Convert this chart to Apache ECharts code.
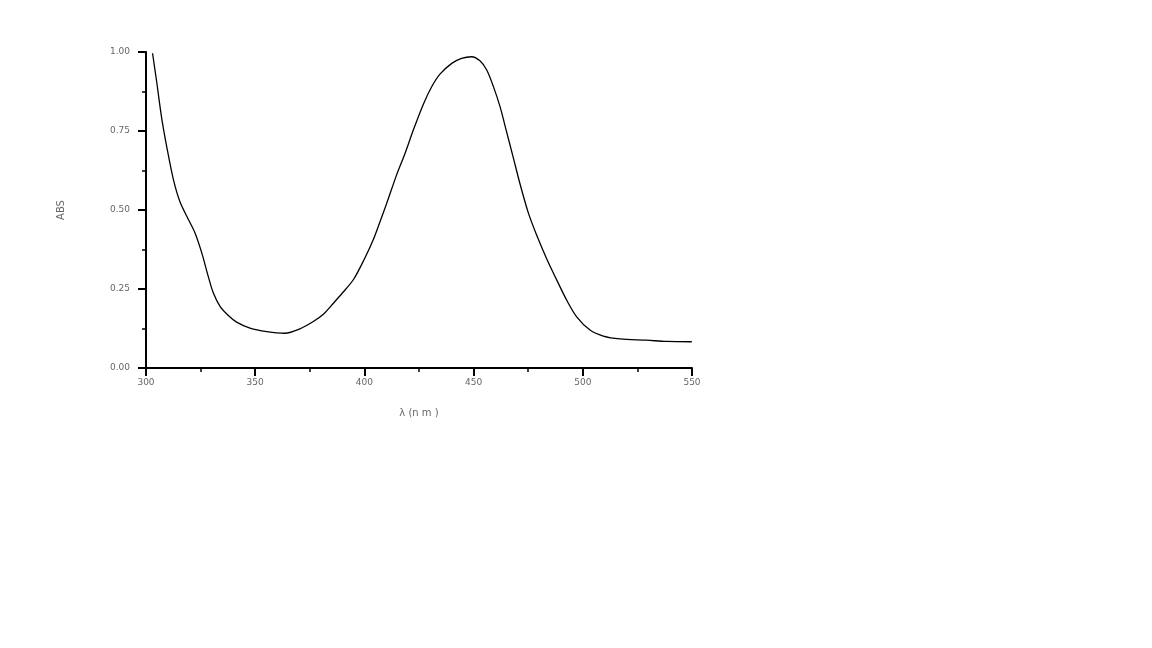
<!DOCTYPE html>
<html>
<head>
<meta charset="utf-8">
<script src="https://cdn.jsdelivr.net/npm/echarts@6/dist/echarts.min.js"></script>
<style>html,body{margin:0;padding:0;background:#fff}#c{width:1152px;height:648px}</style>
</head>
<body>
<div id="c"></div>
<script>
const wavelengths = [303, 304.9, 307.2, 309.5, 312.5, 315.6, 319.4, 322.4, 325.5, 328.5, 330.8, 333.9, 337.7, 341.5, 347.6, 355.3, 363.6, 370.5, 376.6, 381.2, 385.8, 390, 395, 400, 404, 407.1, 410.2, 414.8, 418.6, 422.4, 427.0, 430.8, 434.6, 440.0, 444.5, 449.1, 452.9, 456.0, 459.0, 462.1, 465.2, 468.2, 471.2, 475.1, 478.9, 483.5, 488.1, 492.6, 497.2, 503.3, 509.4, 517.0, 529.2, 538.4, 549.9];
const absorbance = [0.996, 0.905, 0.79, 0.70, 0.598, 0.525, 0.470, 0.428, 0.365, 0.290, 0.238, 0.195, 0.166, 0.145, 0.126, 0.115, 0.110, 0.124, 0.147, 0.170, 0.205, 0.238, 0.280, 0.345, 0.405, 0.462, 0.521, 0.612, 0.679, 0.753, 0.835, 0.890, 0.930, 0.964, 0.980, 0.985, 0.972, 0.943, 0.892, 0.827, 0.745, 0.665, 0.584, 0.490, 0.420, 0.345, 0.278, 0.215, 0.162, 0.120, 0.101, 0.092, 0.088, 0.084, 0.083];
const xTicks = [300, 350, 400, 450, 500, 550];
const yTicks = ['0.00', '0.25', '0.50', '0.75', '1.00'];
const xLabel = 'λ (n m )';
const yLabel = 'ABS';

const data = wavelengths.map((w, i) => [w, absorbance[i]]);
const chart = echarts.init(document.getElementById('c'));
const labelStyle = {fontFamily: 'DejaVu Sans', fontSize: 9, color: '#666'};
chart.setOption({
  animation: false,
  backgroundColor: '#fff',
  grid: {left: 146, top: 52, width: 546, height: 316, containLabel: false},
  xAxis: {
    type: 'value', min: 300, max: 550, interval: 50,
    name: xLabel, nameLocation: 'middle', nameGap: 40,
    nameTextStyle: {fontFamily: 'DejaVu Sans', fontSize: 10, color: '#666'},
    axisLine: {onZero: false, lineStyle: {color: '#000', width: 2}},
    axisTick: {show: true, inside: false, length: 8, lineStyle: {color: '#000', width: 2}},
    minorTick: {show: true, splitNumber: 2, length: 4, lineStyle: {color: '#000', width: 1.5}},
    axisLabel: Object.assign({margin: 10, formatter: v => String(xTicks.find(t => t === v) ?? v)}, labelStyle),
    splitLine: {show: false}
  },
  yAxis: {
    type: 'value', min: 0, max: 1, interval: 0.25,
    name: yLabel, nameLocation: 'middle', nameGap: 80, nameRotate: 90,
    nameTextStyle: {fontFamily: 'DejaVu Sans', fontSize: 10, color: '#666'},
    axisLine: {onZero: false, lineStyle: {color: '#000', width: 2}},
    axisTick: {show: true, inside: false, length: 8, lineStyle: {color: '#000', width: 2}},
    minorTick: {show: true, splitNumber: 2, length: 4, lineStyle: {color: '#000', width: 1.5}},
    axisLabel: Object.assign({margin: 16, formatter: v => yTicks[Math.round(v / 0.25)]}, labelStyle),
    splitLine: {show: false}
  },
  series: [{
    type: 'line', data: data, smooth: 0.3, showSymbol: false,
    lineStyle: {color: '#000', width: 1.3}
  }]
});
</script>
</body>
</html>
